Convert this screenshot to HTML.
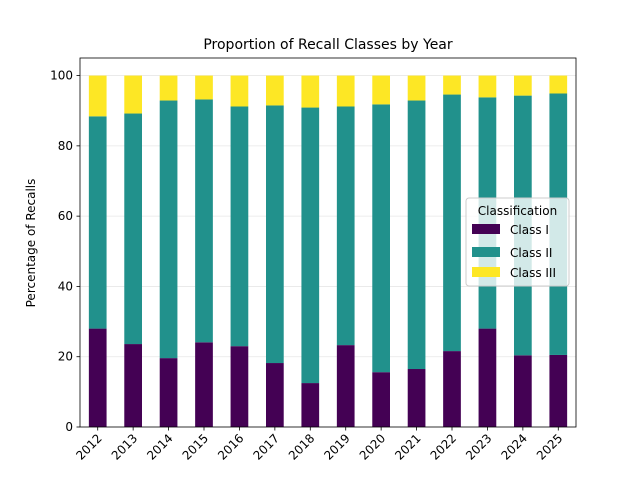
<!DOCTYPE html>
<html><head><meta charset="utf-8"><style>
html,body{margin:0;padding:0;width:640px;height:480px;overflow:hidden;background:#fff;font-family:"Liberation Sans","DejaVu Sans",sans-serif}
svg{display:block}
svg text{font-family:"DejaVu Sans","Liberation Sans",sans-serif}
</style></head><body>
<svg id="chart" width="640" height="480" viewBox="0 0 640 480" overflow="hidden">
<rect width="640" height="480" fill="#fff"/>
<text x="328" y="49" text-anchor="middle" font-size="14">Proportion of Recall Classes by Year</text>
<g id="grid"></g><g id="bars"></g><g id="axes"></g>
<text transform="translate(35,243) rotate(-90)" text-anchor="middle" font-size="12">Percentage of Recalls</text>
<text x="328" y="489" text-anchor="middle" font-size="12">Year</text>
<g>
<rect x="466" y="198" width="103" height="88" rx="3" fill="#fff" fill-opacity="0.8" stroke="#ccc"/>
<text x="517.5" y="215" text-anchor="middle" font-size="12">Classification</text>
<rect x="472" y="224" width="28" height="10" fill="#440154"/>
<text x="510" y="234" font-size="12">Class I</text>
<rect x="472" y="247" width="28" height="10" fill="#21918c"/>
<text x="510" y="257" font-size="12">Class II</text>
<rect x="472" y="267" width="28" height="10" fill="#fde725"/>
<text x="510" y="277" font-size="12">Class III</text>
</g>
</svg>
<script>
const years=["2012","2013","2014","2015","2016","2017","2018","2019","2020","2021","2022","2023","2024","2025"];
const classI=[28.0,23.6,19.6,24.1,23.0,18.2,12.5,23.3,15.6,16.5,21.6,28.0,20.4,20.5];
const classII=[60.4,65.6,73.3,69.1,68.2,73.3,78.4,67.9,76.2,76.4,73.0,65.8,73.9,74.4];
const classIII=[11.6,10.8,7.1,6.8,8.8,8.5,9.1,8.8,8.2,7.1,5.4,6.2,5.7,5.1];
const yTicks=[0,20,40,60,80,100];
const NS="http://www.w3.org/2000/svg";
const L=80,R=576,T=58,B=427;
const xS=i=>L+(i+0.5)*(R-L)/years.length;
const yS=v=>B-(v/105)*(B-T);
const bw=0.5*(R-L)/years.length;
function mk(tag,attrs,parent){const e=document.createElementNS(NS,tag);for(const k in attrs)e.setAttribute(k,attrs[k]);parent.appendChild(e);return e;}
const grid=document.getElementById('grid'),bars=document.getElementById('bars'),axes=document.getElementById('axes');
yTicks.forEach(t=>{
 const g=mk('line',{x1:L,x2:R,y1:yS(t),y2:yS(t),stroke:'#b0b0b0','stroke-opacity':0.3,'stroke-width':0.8},grid);
 
 
 mk('line',{x1:L-3.5,x2:L,y1:yS(t),y2:yS(t),stroke:'#000','stroke-width':0.8},axes);
 const tx=mk('text',{x:L-7,y:yS(t)+4,'text-anchor':'end','font-size':12},axes);
 tx.textContent=t;
 
 
});
const series=[[classI,'#440154','class-i'],[classII,'#21918c','class-ii'],[classIII,'#fde725','class-iii']];
years.forEach((y,i)=>{
 let base=0;
 series.forEach(([arr,col,nm])=>{
  const v=arr[i];
  const r=mk('rect',{x:xS(i)-bw/2,y:yS(base+v),width:bw,height:yS(base)-yS(base+v),fill:col},bars);
  
  
  base+=v;
 });
 mk('line',{x1:xS(i),x2:xS(i),y1:B,y2:B+3.5,stroke:'#000','stroke-width':0.8},axes);
 const tx=mk('text',{x:0,y:0,'text-anchor':'end','font-size':12,transform:`translate(${xS(i)+5},${B+12}) rotate(-45)`},axes);
 tx.textContent=y;
 
 
});
const frame=mk('rect',{x:L,y:T,width:R-L,height:B-T,fill:'none',stroke:'#000','stroke-width':0.8},axes);


</script>
</body></html>
